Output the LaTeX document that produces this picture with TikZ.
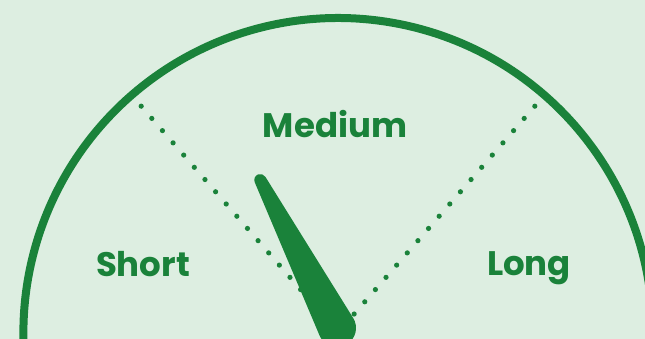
\documentclass[tikz,border=0pt]{standalone}
\usepackage{fontspec}
\setmainfont{Poppins}
\usetikzlibrary{calc}

\definecolor{gaugegreen}{RGB}{26,130,58}
\definecolor{gaugebg}{RGB}{221,238,225}

\tikzset{
  rangetext/.style={anchor=base, text=gaugegreen, font=\fontsize{34}{40}\selectfont\bfseries},
  gaugedot/.style={fill=gaugegreen}
}

\begin{document}
\begin{tikzpicture}[x=1pt,y=1pt]

   %===== Background =====%
   \fill[gaugebg] (0,0) rectangle (645,339);
   \useasboundingbox (0,0) rectangle (645,339);
   \clip (0,0) rectangle (645,339);

   \coordinate (pivot) at (338,6.4); % centre of the dial
   \coordinate (hub) at (337,11);    % needle pivot
   \coordinate (tip) at ($(hub)+(117.4:166.7)$);

   %===== Outer arc =====%
   \draw[gaugegreen, line width=8pt]
     ($(pivot)+(-10:314.6)$) arc[start angle=-10, end angle=190, radius=314.6];

   %===== Dotted dividers =====%
   \foreach \dirang in {49,131} {
     \foreach \k in {0,...,17} {
       \fill[gaugedot] ($(pivot)+(\dirang:{300-16.2*\k})$) circle[radius=2.6];
     }
   }

   %===== Labels =====%
   \node[rangetext] (short) at (143,62) {Short};
   \node[rangetext] (medium) at (335,201.7) {Medium};
   \node[rangetext] (long) at (529,63) {Long};

   %===== Needle =====%
   \fill[gaugegreen]
     ($(hub)+(202.9:19)$) -- ($(tip)+(202.9:6)$)
     arc[start angle=202.9, end angle=31.9, radius=6]
     -- ($(hub)+(31.9:19)$)
     arc[start angle=31.9, end angle=-157.1, radius=19] -- cycle;

\end{tikzpicture}
\end{document}
